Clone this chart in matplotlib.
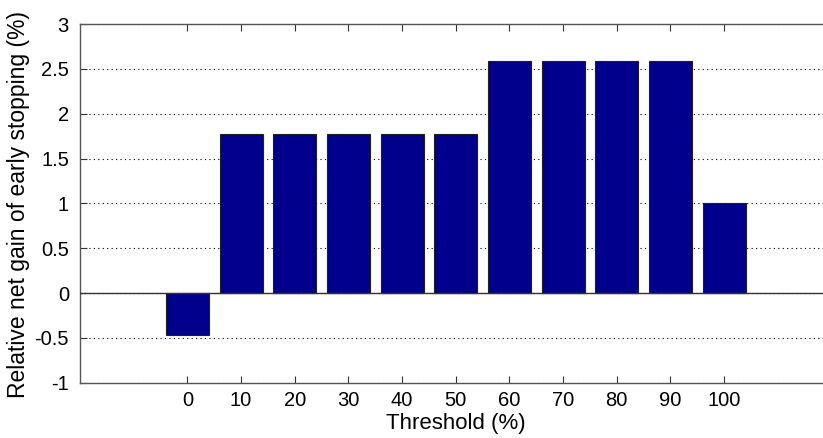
import matplotlib
matplotlib.use("Agg")
import matplotlib.pyplot as plt

thresholds = [0, 10, 20, 30, 40, 50, 60, 70, 80, 90, 100]
gains = [-0.47, 1.77, 1.77, 1.77, 1.77, 1.77, 2.59, 2.59, 2.59, 2.59, 1.0]
yticks = [-1, -0.5, 0, 0.5, 1, 1.5, 2, 2.5, 3]
ytick_labels = ["-1", "-0.5", "0", "0.5", "1", "1.5", "2", "2.5", "3"]

plt.rcParams['font.family'] = ['Liberation Sans', 'DejaVu Sans']

fig = plt.figure(figsize=(8.23, 4.38), dpi=100)
W, H = 823, 438
x0, x1 = 80, 831.5
y0, y1 = 382.7, 24
ax = fig.add_axes([x0 / W, 1 - y0 / H, (x1 - x0) / W, (y0 - y1) / H])

ax.bar(thresholds, gains, width=8.0, color='#00008C', edgecolor='#202020', linewidth=0.8, zorder=3)
ax.axhline(0, color='#333333', linewidth=1.0, zorder=4)

ax.set_xlim(-20, 120)
ax.set_ylim(-1, 3)
ax.set_xticks(thresholds)
ax.set_xticklabels([str(t) for t in thresholds])
ax.set_yticks(yticks)
ax.set_yticklabels(ytick_labels)

ax.yaxis.grid(True, linestyle=(0, (1, 3)), color='black', linewidth=0.8)
ax.set_axisbelow(True)

ax.tick_params(axis='both', direction='in', labelsize=14.5, length=5, width=0.8, colors='#333333', labelcolor='black')
ax.tick_params(axis='x', top=True, pad=6)
ax.tick_params(axis='y', right=True, pad=8)
for s in ax.spines.values():
    s.set_color('#555555')
    s.set_linewidth(1.0)

xl = ax.set_xlabel('Threshold (%)', fontsize=16)
xl.set_va('center')
ax.xaxis.set_label_coords((456 - x0) / (x1 - x0), (y0 - 424) / (y0 - y1))
yl = ax.set_ylabel('Relative net gain of early stopping (%)', fontsize=16.5)
yl.set_va('center')
ax.yaxis.set_label_coords((19 - x0) / (x1 - x0), (y0 - 204) / (y0 - y1))

fig.savefig('out.png', dpi=100)
